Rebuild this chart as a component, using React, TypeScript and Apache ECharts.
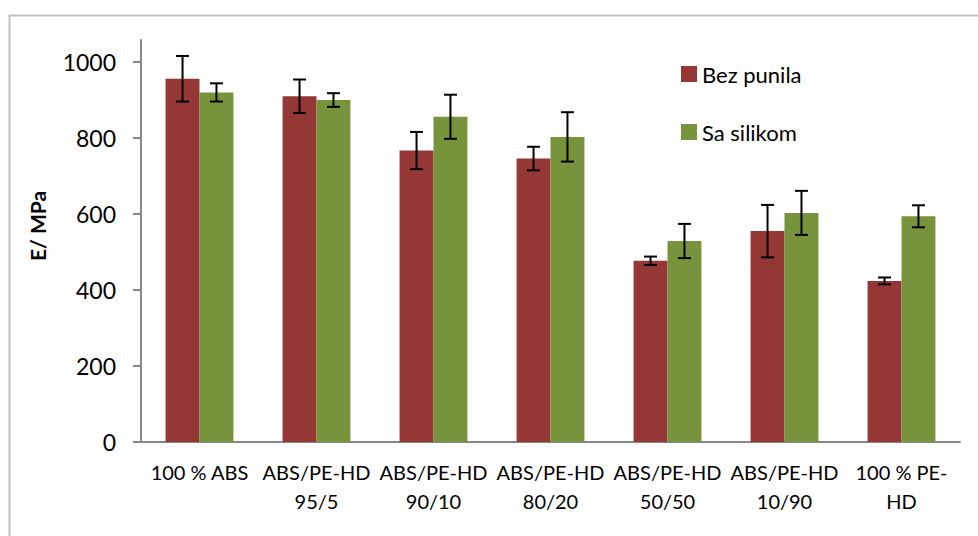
import React, { useEffect, useRef } from "react";
import * as echarts from "echarts";

const categories = [
  "100 % ABS",
  "ABS/PE-HD\n95/5",
  "ABS/PE-HD\n90/10",
  "ABS/PE-HD\n80/20",
  "ABS/PE-HD\n50/50",
  "ABS/PE-HD\n10/90",
  "100 % PE-\nHD",
];
const seriesNames = ["Bez punila", "Sa silikom"];
const bezPunila = [956, 910, 767, 746, 477, 555, 424];
const bezPunilaErr = [60, 44, 49, 31, 11, 69, 9];
const saSilikom = [920, 900, 856, 803, 529, 603, 594];
const saSilikomErr = [24, 18, 58, 65, 45, 58, 29];
const yTicks = [0, 200, 400, 600, 800, 1000];
const yAxisTitle = "E/ MPa";

const RED = "#953735";
const GREEN = "#77933C";
const AXIS = "#878787";
const FONT = "Lato, 'Liberation Sans', sans-serif";
const CAT_GAP = 0.42;

function errorSeries(values: number[], errs: number[], side: number) {
  return {
    type: "custom",
    silent: true,
    z: 10,
    data: values.map((v, i) => [i, v - errs[i], v + errs[i]]),
    encode: { x: 0, y: [1, 2] },
    renderItem: (params: any, api: any) => {
      const idx = api.value(0);
      const lo = api.coord([idx, api.value(1)]);
      const hi = api.coord([idx, api.value(2)]);
      const band = api.size([1, 0])[0];
      const barW = (band * (1 - CAT_GAP)) / 2;
      const x = lo[0] + (side * barW) / 2;
      const cap = 6.5;
      const style = { stroke: "#000", lineWidth: 2 };
      return {
        type: "group",
        children: [
          { type: "line", shape: { x1: x, y1: lo[1], x2: x, y2: hi[1] }, style },
          { type: "line", shape: { x1: x - cap, y1: lo[1], x2: x + cap, y2: lo[1] }, style },
          { type: "line", shape: { x1: x - cap, y1: hi[1], x2: x + cap, y2: hi[1] }, style },
        ],
      };
    },
  };
}

export default function App() {
  const ref = useRef<HTMLDivElement>(null);
  useEffect(() => {
    if (!ref.current) return;
    const chart = echarts.init(ref.current, undefined, { renderer: "svg" });
    chart.setOption({
      animation: false,
      backgroundColor: "#fff",
      grid: { left: 141, right: 18, top: 40, bottom: 94 },
      legend: {
        orient: "vertical",
        left: 676,
        top: 57,
        itemWidth: 16,
        itemHeight: 16,
        itemGap: 34,
        icon: "rect",
        data: seriesNames,
        textStyle: { fontFamily: FONT, fontSize: 22, color: "#000", lineHeight: 24 },
      },
      xAxis: {
        type: "category",
        data: categories,
        axisLine: { lineStyle: { color: AXIS, width: 2 } },
        axisTick: { length: 9, lineStyle: { color: AXIS, width: 2 } },
        axisLabel: {
          interval: 0,
          margin: 15,
          fontFamily: FONT,
          fontSize: 20,
          lineHeight: 29,
          color: "#000",
        },
      },
      yAxis: {
        type: "value",
        min: 0,
        max: 1058,
        splitLine: { show: false },
        axisLine: { show: true, lineStyle: { color: AXIS, width: 2 } },
        axisTick: { show: true, length: 8, customValues: yTicks, lineStyle: { color: AXIS, width: 2 } },
        axisLabel: {
          customValues: yTicks,
          formatter: (v: number) => String(v),
          margin: 25,
          fontFamily: FONT,
          fontSize: 23,
          color: "#000",
        },
      },
      graphic: [
        {
          type: "rect",
          left: 7,
          top: 13,
          shape: { width: 1000, height: 600 },
          style: { fill: "none", stroke: "#c0c0c0", lineWidth: 2 },
          silent: true,
        },
        {
          type: "text",
          x: 37,
          y: 226,
          rotation: Math.PI / 2,
          style: {
            text: yAxisTitle,
            fontFamily: FONT,
            fontWeight: "bold",
            fontSize: 21,
            fill: "#000",
            textAlign: "center",
            textVerticalAlign: "middle",
          },
        },
      ],
      series: [
        {
          name: seriesNames[0],
          type: "bar",
          data: bezPunila,
          itemStyle: { color: RED },
          barGap: "0%",
          barCategoryGap: CAT_GAP * 100 + "%",
        },
        {
          name: seriesNames[1],
          type: "bar",
          data: saSilikom,
          itemStyle: { color: GREEN },
          barGap: "0%",
          barCategoryGap: CAT_GAP * 100 + "%",
        },
        errorSeries(bezPunila, bezPunilaErr, -1),
        errorSeries(saSilikom, saSilikomErr, 1),
      ],
    });
    return () => chart.dispose();
  }, []);
  return (
    <div
      ref={ref}
      style={{ position: "absolute", left: 0, top: 0, width: 978, height: 536 }}
    />
  );
}
